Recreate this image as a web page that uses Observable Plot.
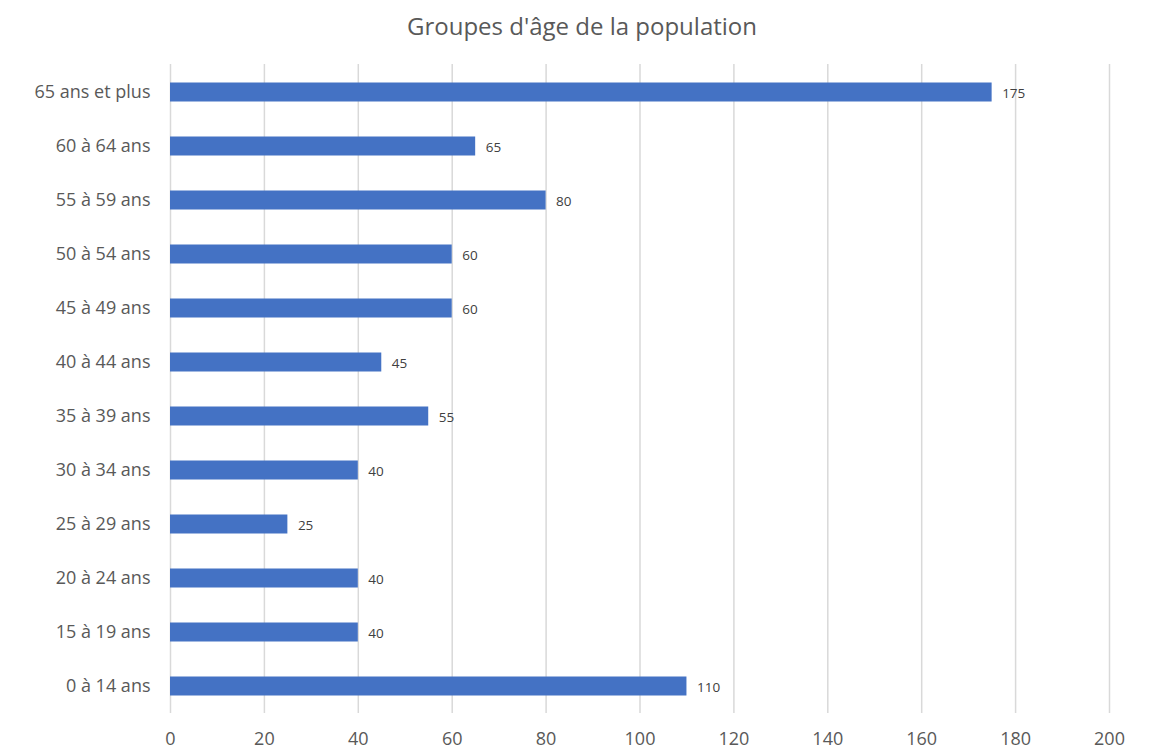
<!DOCTYPE html>
<html>
<head>
<meta charset="utf-8">
<script src="https://cdn.jsdelivr.net/npm/d3@7"></script>
<script src="https://cdn.jsdelivr.net/npm/@observablehq/plot@0.6"></script>
<style>
  body { margin: 0; background: #fff; font-family: "Open Sans", "Noto Sans", sans-serif; }
  #title { height: 50px; width: 1164px; text-align: center; font-size: 24px; line-height: 52px; color: #595959; }
  #chart svg { display: block; }
</style>
</head>
<body>
<div id="title">Groupes d'âge de la population</div>
<div id="chart"></div>
<script>
const categories = ["0 à 14 ans", "15 à 19 ans", "20 à 24 ans", "25 à 29 ans", "30 à 34 ans", "35 à 39 ans", "40 à 44 ans", "45 à 49 ans", "50 à 54 ans", "55 à 59 ans", "60 à 64 ans", "65 ans et plus"];
const values = [110, 40, 40, 25, 40, 55, 45, 60, 60, 80, 65, 175];
const xTicks = [0, 20, 40, 60, 80, 100, 120, 140, 160, 180, 200];

const data = categories.map((c, i) => ({category: c, value: values[i]}));

const chart = Plot.plot({
  width: 1160,
  height: 702,
  marginTop: 14,
  marginBottom: 39,
  marginLeft: 170,
  marginRight: 51,
  style: { fontFamily: "'Open Sans', 'Noto Sans', sans-serif", color: "#595959", background: "#fff" },
  x: { domain: [0, 200], ticks: xTicks, label: null },
  y: { domain: categories.slice().reverse(), padding: 0, label: null },
  marks: [
    Plot.gridX(xTicks, { stroke: "#d9d9d9", strokeOpacity: 1, strokeWidth: 1.5 }),
    Plot.barX(data, { x: "value", y: "category", fill: "#4472C4", insetTop: 17.5, insetBottom: 17.5 }),
    Plot.text(data, { x: "value", y: "category", text: d => String(d.value), textAnchor: "start", dx: 10, dy: 1, fontSize: 13.5, fill: "#404040" }),
    Plot.axisX({ ticks: xTicks, tickSize: 0, tickPadding: 19, fontSize: 18, label: null, tickFormat: d => String(d) }),
    Plot.axisY({ tickSize: 0, tickPadding: 20, fontSize: 18, label: null })
  ]
});
document.getElementById("chart").appendChild(chart);
</script>
</body>
</html>
